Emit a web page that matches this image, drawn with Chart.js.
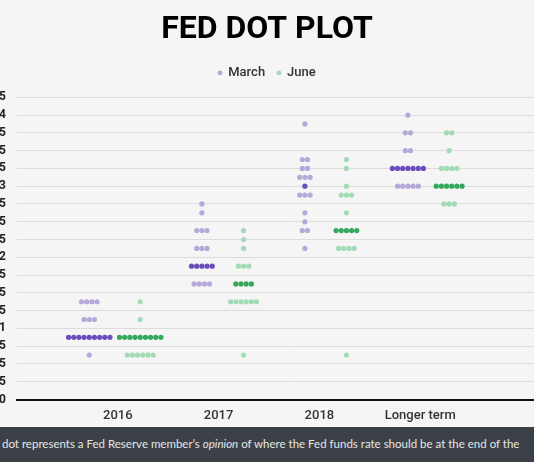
<!DOCTYPE html>
<html><head><meta charset="utf-8">
<script src="https://cdn.jsdelivr.net/npm/chart.js@4"></script>
<style>
html,body{margin:0;padding:0;}
body{width:534px;height:462px;overflow:hidden;background:#f5f5f5;position:relative;font-family:Roboto,sans-serif;}
#wrap{position:absolute;left:-40px;top:0;width:614px;height:427px;}
#band{position:absolute;left:0;top:427px;width:534px;height:35px;background:#3c4148;color:#e6e6e6;font-family:Lato,sans-serif;font-size:11.5px;line-height:34px;white-space:nowrap;overflow:hidden;padding-left:2px;box-sizing:border-box;}
</style></head>
<body>
<div id="wrap"><canvas id="c"></canvas></div>
<div id="band">dot represents a Fed Reserve member’s <i>opinion</i> of where the Fed funds rate should be at the end of the</div>
<script>
// ---- data: [rate, number of dots] ----
const categories = ['2016', '2017', '2018', 'Longer term'];
const march2016 = [[0.625,1],[0.875,9],[1.125,3],[1.375,4]];
const june2016  = [[0.625,6],[0.875,9],[1.125,1],[1.375,1]];
const march2017 = [[1.625,4],[1.875,5],[2.125,3],[2.375,3],[2.625,1],[2.75,1]];
const june2017  = [[0.625,1],[1.375,6],[1.625,4],[1.875,3],[2.125,1],[2.25,1],[2.375,1]];
const march2018 = [[2.125,1],[2.375,2],[2.5,1],[2.625,1],[2.875,3],[3.0,1],[3.125,3],[3.25,2],[3.375,2],[3.875,1]];
const june2018  = [[0.625,1],[2.125,4],[2.375,5],[2.625,1],[2.875,3],[3.0,1],[3.25,1],[3.375,1]];
const marchLonger = [[3.0,5],[3.25,7],[3.5,2],[3.75,2],[4.0,1]];
const juneLonger  = [[2.75,3],[3.0,6],[3.25,4],[3.5,1],[3.75,2]];

const marchGroups = [march2016, march2017, march2018, marchLonger];
const juneGroups  = [june2016, june2017, june2018, juneLonger];

// ---- layout (cluster shifts in category units) ----
const marchShift = [-0.283, -0.166, -0.144, -0.122];
const juneShift  = [0.222, 0.248, 0.268, 0.287];
const dotStep = 0.0513;

function median(levels) {
  const v = [];
  levels.forEach(([r, c]) => { for (let i = 0; i < c; i++) v.push(r); });
  v.sort((a, b) => a - b);
  const n = v.length;
  return n % 2 ? v[(n - 1) / 2] : (v[n / 2 - 1] + v[n / 2]) / 2;
}
function toPoints(groups, shifts) {
  const pts = [];
  groups.forEach((levels, i) => {
    const med = median(levels);
    levels.forEach(([rate, count]) => {
      for (let j = 0; j < count; j++) {
        pts.push({ x: i + shifts[i] + (j - (count - 1) / 2) * dotStep, y: rate, med: rate === med });
      }
    });
  });
  return pts;
}
const marchPts = toPoints(marchGroups, marchShift);
const junePts = toPoints(juneGroups, juneShift);

const colors = { marchLight: '#b6a8d8', marchDark: '#6a4cbb', juneLight: '#a2dbb6', juneDark: '#33a85c' };

Chart.defaults.font.family = 'Roboto';

const legendHeight = {
  id: 'legendHeight',
  beforeInit(chart) {
    const fit = chart.legend.fit;
    chart.legend.fit = function () { fit.call(this); this.height = 42.9; };
  }
};

new Chart(document.getElementById('c'), {
  type: 'scatter',
  data: {
    datasets: [
      { label: 'March', data: marchPts,
        backgroundColor: marchPts.map(p => p.med ? colors.marchDark : colors.marchLight),
        pointRadius: 2.6, pointHoverRadius: 2.6, borderWidth: 0 },
      { label: 'June', data: junePts,
        backgroundColor: junePts.map(p => p.med ? colors.juneDark : colors.juneLight),
        pointRadius: 2.6, pointHoverRadius: 2.6, borderWidth: 0 }
    ]
  },
  options: {
    responsive: true, maintainAspectRatio: false, animation: false,
    layout: { padding: 0 },
    plugins: {
      tooltip: { enabled: false },
      title: { display: true, text: 'FED DOT PLOT', color: '#000',
        font: { size: 32, weight: 'bold' }, padding: { top: 11, bottom: 5 } },
      legend: { labels: { usePointStyle: true, pointStyle: 'circle', boxWidth: 3.5, boxHeight: 3.5,
        color: '#333', font: { size: 13, weight: '500' }, padding: 12 } }
    },
    scales: {
      x: { type: 'linear', min: -1, max: 4.5,
        afterBuildTicks: s => { s.ticks = categories.map((_, i) => ({ value: i })); },
        afterFit: s => { s.height = 27.5; },
        ticks: { callback: v => categories[v], color: '#333', font: { size: 13, weight: '500' }, padding: 8, autoSkip: false, maxRotation: 0 },
        grid: { display: false, drawTicks: false },
        border: { display: true, color: '#111', width: 2 } },
      y: { min: 0, max: 4.25,
        afterFit: s => { s.width = 57; },
        ticks: { stepSize: 0.25, autoSkip: false, callback: v => String(v), color: '#222', font: { size: 12, weight: 'bold' }, padding: 11 },
        grid: { color: '#dcdcdc', drawTicks: false },
        border: { display: false } }
    }
  },
  plugins: [legendHeight]
});
</script>
</body></html>
